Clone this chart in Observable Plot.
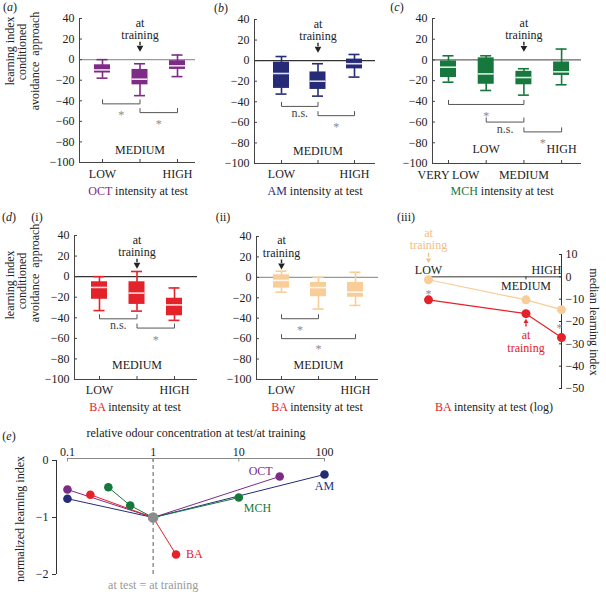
<!DOCTYPE html>
<html><head><meta charset="utf-8">
<script src="https://cdn.jsdelivr.net/npm/d3@7"></script>
<script src="https://cdn.jsdelivr.net/npm/@observablehq/plot@0.6"></script>
<style>
html,body{margin:0;padding:0;background:#fff;}
#fig{position:relative;width:606px;height:594px;overflow:hidden;font-family:"Liberation Serif","Times New Roman",serif;font-size:12px;color:#222;}
#fig svg{position:absolute;}
.t{position:absolute;white-space:pre;line-height:1;transform:translate(-50%,-50%);}
.r{transform:translate(-50%,-50%) rotate(-90deg);}
.r90{transform:translate(-50%,-50%) rotate(90deg);}
</style></head><body><div id="fig"></div>
<script>
// ---------- data ----------
const yTicksBox = [40, 20, 0, -20, -40, -60, -80, -100];
const yTicksMedian = [10, 0, -10, -20, -30, -40, -50];
const xTicksRatio = [0.1, 1, 10, 100];
const yTicksNorm = [0, -1, -2];

// (a) OCT
const catsOCT = ["LOW", "MEDIUM", "HIGH"];
const octHi = [0, -4, 4.5];
const octQ3 = [-5, -9.5, -1];
const octMed = [-10, -19, -6];
const octQ1 = [-13, -24.5, -9.5];
const octLo = [-18, -35, -16.5];
const octBrFrom = [0, 1], octBrTo = [1, 2], octBrY = [-43, -51.5], octBrText = ["*", "*"], octBrTextY = [-54, -63];

// (b) AM
const catsAM = ["LOW", "MEDIUM", "HIGH"];
const amHi = [4, -3, 6];
const amQ3 = [-1.5, -11, 1.5];
const amMed = [-12.5, -20, -3];
const amQ1 = [-27, -28, -8];
const amLo = [-32.5, -34.5, -16];
const amBrFrom = [0, 1], amBrTo = [1, 2], amBrY = [-44.5, -53.5], amBrText = ["n.s.", "*"], amBrTextY = [-51, -65];

// (c) MCH
const catsMCH = ["VERY LOW", "LOW", "MEDIUM", "HIGH"];
const mchHi = [4, 4, -8.5, 10.5];
const mchQ3 = [-1, 2, -11, -2];
const mchMed = [-7, -13.5, -17, -11.5];
const mchQ1 = [-17, -23.5, -24, -15];
const mchLo = [-21.5, -29.5, -34, -24];
const mchBrFrom = [0, 1, 2], mchBrTo = [2, 2, 3], mchBrY = [-43, -60, -69.5], mchBrText = ["*", "n.s.", "*"], mchBrTextY = [-54, -67, -80];

// (d)(i) BA, trained at MEDIUM
const catsBA = ["LOW", "MEDIUM", "HIGH"];
const baMHi = [0, 5, -11];
const baMQ3 = [-5, -5, -21];
const baMMed = [-10.5, -16, -27.5];
const baMQ1 = [-22, -27, -38];
const baMLo = [-33, -33.5, -42.5];
const baMBrFrom = [0, 1], baMBrTo = [1, 2], baMBrY = [-41, -50], baMBrText = ["n.s.", "*"], baMBrTextY = [-47.5, -62];

// (d)(ii) BA, trained at LOW
const baLHi = [6, 0, 5];
const baLQ3 = [2.5, -5, -5];
const baLMed = [-3, -10, -14.5];
const baLQ1 = [-10.5, -19, -19.5];
const baLLo = [-14.5, -31, -27.5];
const baLBrFrom = [0, 0], baLBrTo = [1, 2], baLBrY = [-40.5, -60], baLBrText = ["*", "*"], baLBrTextY = [-52, -70.5];

// (d)(iii) medians, BA concentration (relative to MEDIUM)
const baLevels = ["LOW", "MEDIUM", "HIGH"];
const baConc = [0.185, 1, 1.85];
const baMedianLowTrained = [-1.3, -10.3, -14.7];
const baMedianMedTrained = [-10.3, -16.5, -27.2];

// (e) normalized learning index vs relative concentration
const odours = ["OCT", "AM", "MCH", "BA"];
const octRatio = [0.1, 1, 30], octNorm = [-0.51, -1, -0.28];
const amRatio = [0.1, 1, 100], amNorm = [-0.67, -1, -0.245];
const mchRatio = [0.3, 0.54, 1, 10], mchNorm = [-0.47, -0.79, -1, -0.65];
const baRatio = [0.185, 1, 1.85], baNorm = [-0.6, -1, -1.65];

// ---------- style ----------
const FONT = '"Liberation Serif","Times New Roman",serif';
const PURPLE = "#7e2b87", NAVY = "#262b78", GREEN = "#17783e", RED = "#e3222a", PEACH = "#f8cd98", PEACHTXT = "#f3bd86", GRAYC = "#8c8c8c";
const STARC = "#8a8a8a";
const STYLE = {fontFamily: FONT, fontSize: "12px", background: "transparent", overflow: "visible", color: "#222"};
const fmtInt = d => d < 0 ? "\u2212" + Math.abs(d) : String(d);

const fig = document.getElementById("fig");
function place(svg, L, T) { svg.style.left = L + "px"; svg.style.top = T + "px"; fig.appendChild(svg); }
function label(html, x, y, cls) {
  const d = document.createElement("div");
  d.className = "t" + (cls ? " " + cls : "");
  d.style.left = x + "px"; d.style.top = y + "px";
  d.innerHTML = html; fig.appendChild(d);
}
// small filled arrow: stem + triangle head
function arrowMarks(data, x, yFrom, yTip, color, size) {
  const down = yTip < yFrom;
  return [
    Plot.ruleX(data, {x, y1: yFrom, y2: (yFrom + yTip) / 2, stroke: color, strokeWidth: 1.4}),
    Plot.dot(data, {x, y: yTip, symbol: "triangle2", r: size, fill: color, stroke: null, rotate: down ? 180 : 0, dy: down ? -size * 0.5 : size * 0.5})
  ];
}

function boxPanel(o) {
  const rows = o.cats.map((cat, i) => ({i, cat, hi: o.hi[i], q3: o.q3[i], med: o.med[i], q1: o.q1[i], lo: o.lo[i]}));
  const idx = rows.map(r => r.i);
  const xd = [-(o.c0 - o.fx0) / o.S, (o.fx1 - o.c0) / o.S];
  const yd = [d3.min(yTicksBox), d3.max(yTicksBox)];
  const bw = 8 / o.S, cw = 5.5 / o.S;
  const br = o.brFrom.map((f, k) => ({k, from: f, to: o.brTo[k], y: o.brY[k], text: o.brText[k], ty: o.brTextY[k]}));
  const bh = 4;
  const bpts = br.flatMap(b => [{k: b.k, x: b.from, y: b.y + bh}, {k: b.k, x: b.from, y: b.y}, {k: b.k, x: b.to, y: b.y}, {k: b.k, x: b.to, y: b.y + bh}]);
  const svg = Plot.plot({
    width: o.W, height: o.H,
    marginLeft: o.fx0 - o.L, marginRight: o.L + o.W - o.fx1, marginTop: o.fy0 - o.T, marginBottom: o.T + o.H - o.fy1,
    x: {domain: xd, axis: null}, y: {domain: yd, axis: null},
    style: STYLE,
    marks: [
      Plot.ruleY([0], {stroke: o.zero, strokeWidth: 1.3}),
      Plot.ruleX([xd[0]], {stroke: "#444"}),
      Plot.ruleY([yd[0]], {stroke: "#444"}),
      Plot.axisY(yTicksBox, {tickSize: -3, tickPadding: 8, stroke: "#444", label: null, tickFormat: fmtInt}),
      Plot.axisX(idx, {tickSize: -3, tickPadding: o.lowPad, stroke: "#444", label: null, tickFormat: i => i % 2 === 0 ? o.cats[i] : ""}),
      Plot.text(rows.filter(r => r.i % 2 === 1), {x: "i", text: "cat", frameAnchor: "bottom", dy: o.midDy}),
      Plot.ruleX(rows, {x: "i", y1: "lo", y2: "hi", stroke: o.color, strokeWidth: 1.6}),
      Plot.ruleY(rows, {y: "lo", x1: d => d.i - cw, x2: d => d.i + cw, stroke: o.color, strokeWidth: 1.6}),
      Plot.ruleY(rows, {y: "hi", x1: d => d.i - cw, x2: d => d.i + cw, stroke: o.color, strokeWidth: 1.6}),
      Plot.rect(rows, {x1: d => d.i - bw, x2: d => d.i + bw, y1: "q1", y2: "q3", fill: o.color}),
      Plot.ruleY(rows, {y: "med", x1: d => d.i - bw, x2: d => d.i + bw, stroke: "#fff", strokeOpacity: 0.85, strokeWidth: 1.6}),
      Plot.line(bpts, {x: "x", y: "y", z: "k", stroke: "#555", strokeWidth: 1}),
      Plot.text(br.filter(b => b.text === "*"), {x: d => (d.from + d.to) / 2, y: "ty", text: "text", fill: STARC, opacity: 0.98}),
      Plot.text(br.filter(b => b.text !== "*"), {x: d => (d.from + d.to) / 2, y: "ty", text: "text", fill: "#444"}),
      ...arrowMarks([o.train], d => d, 17, 10, "#222", 3.2),
      Plot.text([o.train], {x: d => d, y: 30, text: () => "at\ntraining", lineHeight: 1.05})
    ]
  });
  place(svg, o.L, o.T);
}

boxPanel({L: 0, T: 0, W: 200, H: 200, fx0: 79, fx1: 195, fy0: 18, fy1: 162, c0: 102, S: 37.5,
  cats: catsOCT, hi: octHi, q3: octQ3, med: octMed, q1: octQ1, lo: octLo, color: PURPLE, zero: "#999",
  brFrom: octBrFrom, brTo: octBrTo, brY: octBrY, brText: octBrText, brTextY: octBrTextY, train: 1, midDy: -9, lowPad: 9.5});
boxPanel({L: 200, T: 0, W: 190, H: 200, fx0: 254, fx1: 375, fy0: 19, fy1: 163, c0: 281, S: 36.5,
  cats: catsAM, hi: amHi, q3: amQ3, med: amMed, q1: amQ1, lo: amLo, color: NAVY, zero: "#333",
  brFrom: amBrFrom, brTo: amBrTo, brY: amBrY, brText: amBrText, brTextY: amBrTextY, train: 1, midDy: -9, lowPad: 9});
boxPanel({L: 390, T: 0, W: 216, H: 200, fx0: 432, fx1: 581, fy0: 18, fy1: 163, c0: 448, S: 37.7,
  cats: catsMCH, hi: mchHi, q3: mchQ3, med: mchMed, q1: mchQ1, lo: mchLo, color: GREEN, zero: "#666",
  brFrom: mchBrFrom, brTo: mchBrTo, brY: mchBrY, brText: mchBrText, brTextY: mchBrTextY, train: 2, midDy: -11, lowPad: 9.5});
boxPanel({L: 0, T: 200, W: 200, H: 215, fx0: 74, fx1: 197, fy0: 235, fy1: 379, c0: 99, S: 37.5,
  cats: catsBA, hi: baMHi, q3: baMQ3, med: baMMed, q1: baMQ1, lo: baMLo, color: RED, zero: "#333",
  brFrom: baMBrFrom, brTo: baMBrTo, brY: baMBrY, brText: baMBrText, brTextY: baMBrTextY, train: 1, midDy: -11, lowPad: 8.5});
boxPanel({L: 200, T: 200, W: 190, H: 215, fx0: 256, fx1: 378, fy0: 236, fy1: 379, c0: 281, S: 37,
  cats: catsBA, hi: baLHi, q3: baLQ3, med: baLMed, q1: baLQ1, lo: baLLo, color: PEACH, zero: "#999",
  brFrom: baLBrFrom, brTo: baLBrTo, brY: baLBrY, brText: baLBrText, brTextY: baLBrTextY, train: 0, midDy: -11, lowPad: 8.5});

// (d)(iii)
{
  const rows = baConc.map((c, k) => ({k, c, lab: baLevels[k], low: baMedianLowTrained[k], med: baMedianMedTrained[k]}));
  const xd = d3.extent(baConc);
  const svg = Plot.plot({
    width: 216, height: 215, marginLeft: 38, marginRight: 45, marginTop: 54, marginBottom: 27,
    x: {type: "log", domain: xd, axis: null}, y: {domain: [d3.min(yTicksMedian), d3.max(yTicksMedian)], axis: null},
    style: STYLE,
    marks: [
      Plot.ruleY([0], {stroke: "#333"}),
      Plot.ruleX(baConc, {y1: 0, y2: -1.4, stroke: "#333"}),
      Plot.ruleX([xd[1]], {stroke: "#333"}),
      Plot.axisY(yTicksMedian, {anchor: "right", tickSize: -3, tickPadding: 7, stroke: "#333", label: null, tickFormat: fmtInt}),
      Plot.line(rows, {x: "c", y: "low", stroke: PEACH, strokeWidth: 1.2}),
      Plot.line(rows, {x: "c", y: "med", stroke: RED, strokeWidth: 1.2}),
      Plot.dot(rows, {x: "c", y: "low", r: 4.5, fill: PEACH}),
      Plot.dot(rows, {x: "c", y: "med", r: 4.5, fill: RED}),
      Plot.text(rows.filter(d => d.k === 0), {x: "c", y: 0, text: "lab", dy: -7}),
      Plot.text(rows.filter(d => d.k === 2), {x: "c", y: 0, text: "lab", dy: -7, textAnchor: "end"}),
      Plot.text(rows.filter(d => d.k === 1), {x: "c", y: 0, text: "lab", dy: 9}),
      Plot.text(rows.filter(d => d.k === 0), {x: "c", y: d => (d.low + d.med) / 2 - 2, text: () => "*", fill: STARC, opacity: 0.98}),
      Plot.text(rows.filter(d => d.k === 2), {x: "c", y: d => (d.low + d.med) / 2 - 2, text: () => "*", fill: STARC, opacity: 0.98, dx: -2}),
      ...arrowMarks(rows.filter(d => d.k === 0), "c", 10.5, 7, PEACHTXT, 2.4),
      Plot.text(rows.filter(d => d.k === 0), {x: "c", y: 17, text: () => "at\ntraining", fill: PEACHTXT, lineHeight: 1.05}),
      ...arrowMarks(rows.filter(d => d.k === 1), "c", -22.5, -19.5, RED, 2.4),
      Plot.text(rows.filter(d => d.k === 1), {x: "c", y: -29, text: () => "at\ntraining", fill: RED, lineHeight: 1.05})
    ]
  });
  place(svg, 390, 200);
}

// (e)
{
  const series = [[octRatio, octNorm], [amRatio, amNorm], [mchRatio, mchNorm], [baRatio, baNorm]];
  const eRows = series.flatMap(([xs, ys], s) => xs.map((x, k) => ({odour: odours[s], x, y: ys[k], last: k === xs.length - 1})));
  const xd = [0.0745, 100], yd = [-2, 0.035];
  const lastOf = name => eRows.filter(d => d.odour === name && d.last);
  const svg = Plot.plot({
    width: 606, height: 179, marginLeft: 56, marginRight: 282, marginTop: 43, marginBottom: 20,
    x: {type: "log", domain: xd, axis: null}, y: {domain: yd, axis: null},
    color: {domain: odours, range: [PURPLE, NAVY, GREEN, RED]},
    style: STYLE,
    marks: [
      Plot.ruleX([1], {y1: yd[0], y2: yd[1], stroke: "#777", strokeDasharray: "4,3", strokeWidth: 1.2}),
      Plot.ruleY([yd[1]], {x1: xTicksRatio[0], x2: xTicksRatio[xTicksRatio.length - 1], stroke: "#888"}),
      Plot.ruleX(xTicksRatio, {y1: yd[1], y2: yd[1] - 0.06, stroke: "#888"}),
      Plot.axisX(xTicksRatio, {anchor: "top", tickSize: 0, tickPadding: 3, label: null, tickFormat: d => String(d)}),
      Plot.ruleX([xd[0]], {y1: d3.min(yTicksNorm), y2: d3.max(yTicksNorm), stroke: "#333"}),
      Plot.axisY(yTicksNorm, {tickSize: 4, tickPadding: 4, stroke: "#333", label: null, tickFormat: fmtInt}),
      Plot.line(eRows, {x: "x", y: "y", z: "odour", stroke: "odour", strokeWidth: 1}),
      Plot.dot(eRows.filter(d => d.x !== 1), {x: "x", y: "y", fill: "odour", r: 4.3}),
      Plot.dot(eRows.filter(d => d.x === 1 && d.odour === "OCT"), {x: "x", y: "y", fill: GRAYC, r: 5.3}),
      Plot.text(lastOf("OCT"), {x: "x", y: "y", text: "odour", fill: "odour", textAnchor: "end", dx: -7, dy: -5}),
      Plot.text(lastOf("AM"), {x: "x", y: "y", text: "odour", fill: "odour", dy: 12}),
      Plot.text(lastOf("MCH"), {x: "x", y: "y", text: "odour", fill: "odour", textAnchor: "start", dx: 5, dy: 11}),
      Plot.text(lastOf("BA"), {x: "x", y: "y", text: "odour", fill: "odour", textAnchor: "start", dx: 10}),
      Plot.text([1], {x: d => d, frameAnchor: "bottom", dy: 14, text: () => "at test = at training", fill: "#999"})
    ]
  });
  place(svg, 0, 415);
}

// ---------- html labels ----------
label('(<i>a</i>)', 10, 7);
label('(<i>b</i>)', 221, 8);
label('(<i>c</i>)', 397, 7);
label('(<i>d</i>)', 9, 217);
label('(i)', 37, 217);
label('(ii)', 223, 217);
label('(iii)', 406, 217);
label('(<i>e</i>)', 9, 436);

label('<span style="color:' + PURPLE + '">OCT</span> intensity at test', 138, 191);
label('<span style="color:' + NAVY + '">AM</span> intensity at test', 315, 191);
label('<span style="color:' + GREEN + '">MCH</span> intensity at test', 502, 191);
label('<span style="color:' + RED + '">BA</span> intensity at test', 135, 407);
label('<span style="color:' + RED + '">BA</span> intensity at test', 317, 407);
label('<span style="color:' + RED + '">BA</span> intensity at test (log)', 494, 407);
label('relative odour concentration at test/at training', 196, 433);

label('learning index', 10, 51, 'r');
label('conditioned', 22, 52, 'r');
label('avoidance  approach', 35, 61, 'r');
label('learning index', 10, 285, 'r');
label('conditioned', 22, 281, 'r');
label('avoidance  approach', 35, 273, 'r');
label('normalized learning index', 20, 519, 'r');
label('median learning index', 594, 322, 'r90');
</script></body></html>
